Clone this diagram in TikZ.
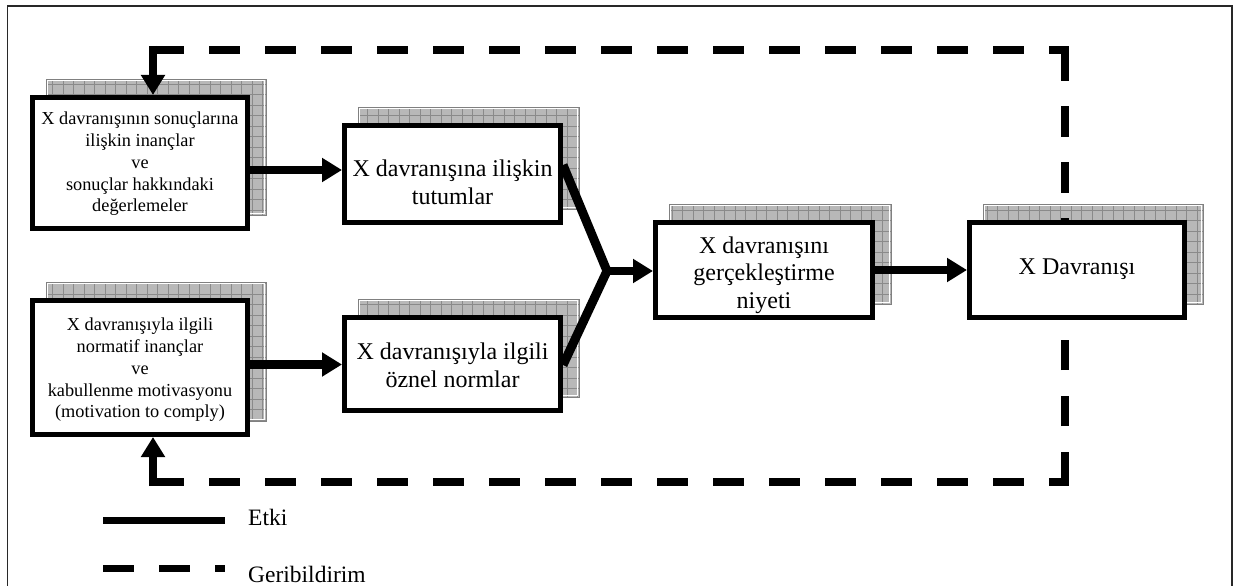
\documentclass[tikz,border=0pt]{standalone}
\usepackage{fontspec}
\setmainfont{Liberation Serif}
\usetikzlibrary{arrows.meta,backgrounds}

\definecolor{shadefill}{RGB}{184,184,184}
\definecolor{shadegrid}{RGB}{138,138,138}
\definecolor{framecol}{RGB}{40,40,40}

\tikzset{
  box/.style={draw=black, line width=5pt, fill=white, inner sep=0pt, outer sep=2.5pt},
  smalltext/.style={inner sep=0pt, align=center, font=\fontsize{18.3pt}{21.7pt}\selectfont},
  bigtext/.style={inner sep=0pt, align=center, font=\fontsize{24pt}{27.6pt}\selectfont},
  legendtext/.style={inner sep=0pt, anchor=base west, font=\fontsize{23.5pt}{27pt}\selectfont},
  flow/.style={line width=8.5pt, -{Triangle[length=20pt,width=23pt]}},
  merge/.style={line width=9pt, line join=miter},
  feedback/.style={line width=8pt, dash pattern=on 30.5pt off 25.5pt},
}

% grey gridded drop shade behind a box, shifted up and to the right
\newcommand\gridshade[1]{%
  \begin{scope}[on background layer]
    \path ([shift={(16pt,16pt)}]#1.south west) coordinate (#1-sw)
          ([shift={(16pt,16pt)}]#1.north east) coordinate (#1-ne);
    \fill[shadefill] (#1-sw) rectangle (#1-ne);
    \begin{scope}
      \clip (#1-sw) rectangle (#1-ne);
      \draw[shadegrid, line width=0.6pt, step=10.5pt] (#1-sw) grid (#1-ne);
    \end{scope}
    \draw[white, line width=0.9pt] ([shift={(1.6pt,1.6pt)}]#1-sw) rectangle ([shift={(-1.6pt,-1.6pt)}]#1-ne);
    \draw[gray, line width=0.5pt] (#1-sw) rectangle (#1-ne);
  \end{scope}}

\begin{document}
\begin{tikzpicture}[x=1pt, y=-1pt]
\useasboundingbox (0,0) rectangle (1234,586);

% outer frame (open at the bottom)
\draw[framecol, line width=1.5pt] (7.5,586) -- (7.5,6) -- (1232,6) -- (1232,586);

% boxes
\node[box, minimum width=215pt, minimum height=131pt] (bel)  at (140,163)   {};
\node[box, minimum width=215pt, minimum height=134pt] (norm) at (140,367.5) {};
\node[box, minimum width=216pt, minimum height=97pt]  (att)  at (452.5,174) {};
\node[box, minimum width=216pt, minimum height=93pt]  (sn)   at (452.5,364) {};
\node[box, minimum width=217pt, minimum height=95pt]  (int)  at (764,270)   {};
\node[box, minimum width=215pt, minimum height=95pt]  (beh)  at (1077,270)  {};

\gridshade{bel}
\gridshade{norm}
\gridshade{att}
\gridshade{sn}
\gridshade{int}
\gridshade{beh}

% box texts
\node[smalltext] (belT)  at (140,164) {X davranışının sonuçlarına\\ilişkin inançlar\\ve\\sonuçlar hakkındaki\\değerlemeler};
\node[smalltext] (normT) at (140,370) {X davranışıyla ilgili\\normatif inançlar\\ve\\kabullenme motivasyonu\\(motivation to comply)};
\node[bigtext] (attT) at (452.5,182) {X davranışına ilişkin\\tutumlar};
\node[bigtext] (snT)  at (452.5,365) {X davranışıyla ilgili\\öznel normlar};
\node[bigtext] (intT) at (764,275)   {X davranışını\\gerçekleştirme\\niyeti};
\node[bigtext] (behT) at (1077,269)  {X Davranışı};

% influence arrows
\path ([yshift=-7pt]bel.east) coordinate (a1);
\draw[flow] (a1) -- (a1 -| att.west);
\path ([yshift=3pt]norm.east) coordinate (a2);
\draw[flow] (a2) -- (a2 -| sn.west);
\coordinate (J) at (607,271);
\draw[merge] ([yshift=9pt]att.east) -- (J) -- ([yshift=-1pt]sn.east);
\draw[flow] (J) -- (J -| int.west);
\draw[flow] (int.east) -- (beh.west);

% feedback loops
\coordinate (tr) at (1065,50);
\coordinate (tl) at (153,50);
\coordinate (br) at (1065,482);
\coordinate (bl) at (153,482);
\draw[feedback] (tr) -- (tr |- beh.north);
\draw[feedback] (tl) -- ([xshift=4pt]tr);
\draw[flow] ([yshift=4pt]tl) -- (tl |- bel.north);
\draw[feedback] (br) -- (br |- beh.south);
\draw[feedback] (bl) -- ([xshift=4pt]br);
\draw[flow] ([yshift=-4pt]bl) -- (bl |- norm.south);

% legend
\coordinate (l1a) at (103,520.5);
\coordinate (l1b) at (225,520.5);
\coordinate (l2a) at (103,568.5);
\coordinate (l2b) at (225,568.5);
\draw[line width=7pt] (l1a) -- (l1b);
\draw[line width=7pt, dash pattern=on 31pt off 25pt] (l2a) -- (l2b);
\node[legendtext] (etki) at (248,525) {Etki};
\node[legendtext] (geri) at (248,582) {Geribildirim};
\end{tikzpicture}
\end{document}
